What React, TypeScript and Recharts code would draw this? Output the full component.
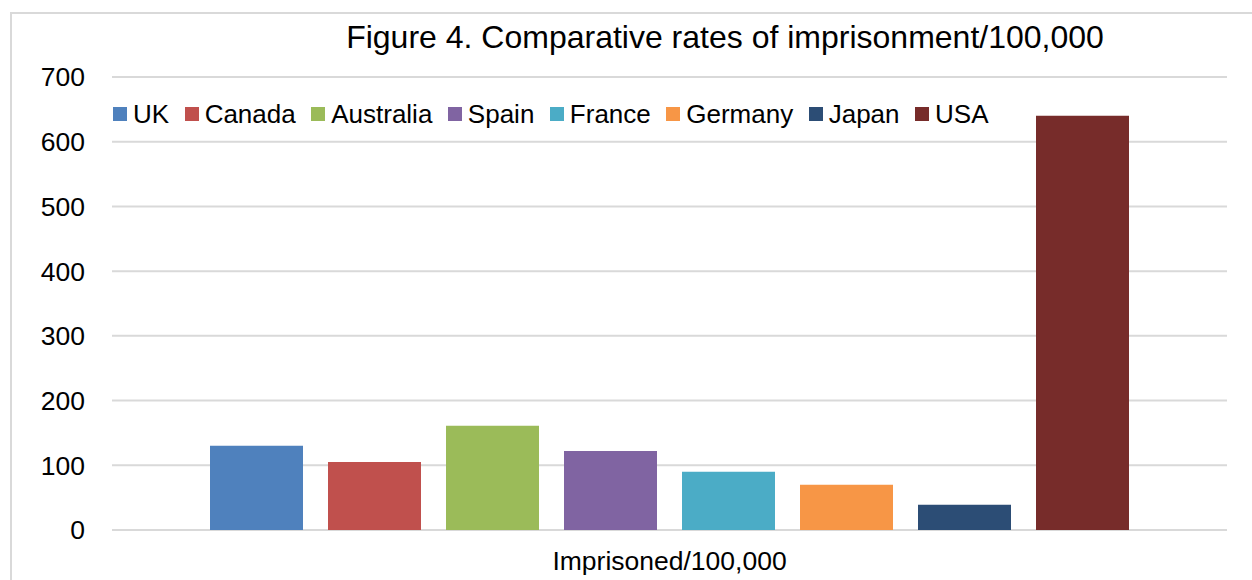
import React from 'react';
import { BarChart, Bar, XAxis, YAxis, CartesianGrid } from 'recharts';

const countries = ['UK', 'Canada', 'Australia', 'Spain', 'France', 'Germany', 'Japan', 'USA'];
const rates = [130, 105, 161, 122, 90, 70, 39, 640];
const colors = ['#4f81bd', '#c0504d', '#9bbb59', '#8064a2', '#4bacc6', '#f79646', '#2c4d75', '#772c2a'];
const category = 'Imprisoned/100,000';
const yTicks = [0, 100, 200, 300, 400, 500, 600, 700];
const title = 'Figure 4. Comparative rates of imprisonment/100,000';

const font = '"Liberation Sans", Arial, sans-serif';

const App: React.FC = () => {
  // single row, one key per country
  const row: Record<string, string | number> = { name: category };
  countries.forEach((c, i) => {
    row[c] = rates[i];
  });
  const chartData = [row];

  return (
    <div
      style={{
        position: 'fixed',
        left: 0,
        top: 0,
        width: 1252,
        height: 580,
        overflow: 'hidden',
        background: '#fff',
        fontFamily: font,
      }}
    >
      {/* chart frame */}
      <div
        style={{
          position: 'absolute',
          left: 10,
          top: 12,
          width: 1300,
          height: 620,
          border: '2px solid #d9d9d9',
        }}
      />

      <div style={{ position: 'absolute', left: 0, top: 0 }}>
        <BarChart
          width={1252}
          height={580}
          data={chartData}
          margin={{ top: 77, right: 25, bottom: 0, left: 0 }}
          barCategoryGap={98}
          barGap={25}
        >
          <CartesianGrid vertical={false} stroke="#d9d9d9" strokeWidth={2} />
          <XAxis
            dataKey="name"
            axisLine={false}
            tickLine={false}
            tickMargin={15}
            height={50}
            tick={{ fontSize: 26.5, fill: '#000', fontFamily: font }}
          />
          <YAxis
            width={112}
            domain={[0, 700]}
            ticks={yTicks}
            axisLine={false}
            tickLine={false}
            tickMargin={21}
            tick={{ fontSize: 26.5, fill: '#000', fontFamily: font }}
          />
          {countries.map((c, i) => (
            <Bar key={c} dataKey={c} fill={colors[i]} isAnimationActive={false} />
          ))}
        </BarChart>
      </div>

      {/* Title */}
      <div
        style={{
          position: 'absolute',
          left: 725,
          top: 21,
          transform: 'translateX(-50%)',
          whiteSpace: 'nowrap',
          fontSize: 32,
          lineHeight: '32px',
          color: '#000',
        }}
      >
        {title}
      </div>

      {/* Legend */}
      <div
        style={{
          position: 'absolute',
          left: 113,
          top: 99,
          display: 'flex',
          alignItems: 'center',
          gap: 15.5,
          fontSize: 26,
          lineHeight: '30px',
          color: '#000',
        }}
      >
        {countries.map((c, i) => (
          <div key={c} style={{ display: 'flex', alignItems: 'center' }}>
            <span style={{ width: 14, height: 14, background: colors[i], marginRight: 6, display: 'inline-block' }} />
            <span>{c}</span>
          </div>
        ))}
      </div>
    </div>
  );
};

export default App;
